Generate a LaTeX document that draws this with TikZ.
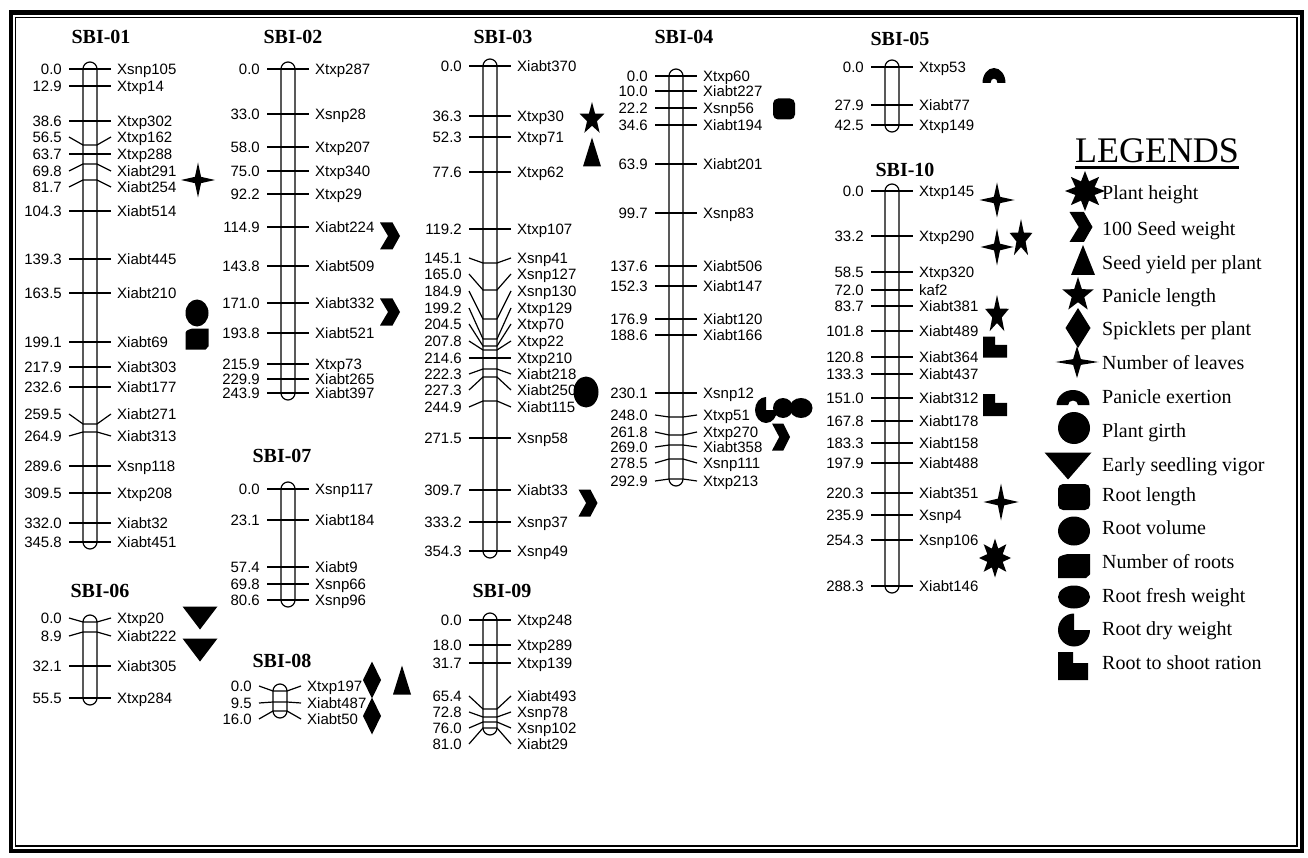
\documentclass[tikz,border=0pt]{standalone}
\usepackage{fontspec}
\setmainfont{Liberation Serif}
\setsansfont{Liberation Sans}

\newcommand{\chrom}[4]{%
  \foreach \cm/\ty/\ly/\mk in {#4}{
    \node[cnum] (n-\mk) at (#1-28,\ly) {\cm};
    \node[cmark] (m-\mk) at (#1+27,\ly) {\mk};
    \draw[cline] ([xshift=7pt]n-\mk.east) -- (#1-7,\ty) -- (#1+7,\ty) -- ([xshift=-6pt]m-\mk.west);}
  \draw[cbar] (#1-7,#2-7) rectangle (#1+7,#3+7);}

\begin{document}
\begin{tikzpicture}[x=1pt,y=-1pt,
    cnum/.style={font=\sffamily\fontsize{15}{15}\selectfont,inner sep=0pt,text height=10.7pt,text depth=0pt,anchor=east},
    cmark/.style={cnum,anchor=west},
    ctitle/.style={font=\bfseries\fontsize{20}{20}\selectfont,inner sep=0pt,text height=13.2pt,text depth=0pt},
    legtext/.style={font=\fontsize{20}{20}\selectfont,inner sep=0pt,text height=13.2pt,text depth=0pt,anchor=west},
    cline/.style={line width=1.2pt},
    cbar/.style={line width=1.2pt,rounded corners=7pt},
    symleaf/.pic={\fill (-1,0) -- (-0.18,-0.18) -- (0,-1) -- (0.18,-0.18) -- (1,0) -- (0.18,0.18) -- (0,1) -- (-0.18,0.18) -- cycle;},
    sym5/.pic={\fill (270:1) \foreach \k in {0,...,4}{ -- ({306+72*\k}:0.4) -- ({342+72*\k}:1)} -- cycle;},
    sym8/.pic={\fill (270:1) \foreach \k in {0,...,7}{ -- ({292.5+45*\k}:0.52) -- ({315+45*\k}:1)} -- cycle;},
    symseed/.pic={\fill (-1,-1) -- (0.25,-1) -- (1,0) -- (0.25,1) -- (-1,1) -- (-0.2,0) -- cycle;},
    symyield/.pic={\fill (0,-1) -- (1,1) -- (-1,1) -- cycle;},
    symvigor/.pic={\fill (-1,-1) -- (1,-1) -- (0,1) -- cycle;},
    symspike/.pic={\fill (0,-1) -- (1,0) -- (0,1) -- (-1,0) -- cycle;},
    symexert/.pic={\fill (-1,0) arc[start angle=180,end angle=360,radius=1] -- (0.3,0) arc[start angle=0,end angle=-180,radius=0.3] -- cycle;},
    symcirc/.pic={\fill (0,0) circle[radius=1];},
    symroot/.pic={\fill[rounded corners=5pt] (-1,-1) rectangle (1,1);},
    symnroot/.pic={\fill (-1,-0.3) .. controls (-1,-0.8) .. (-0.4,-1) -- (1,-1) -- (1,0.7) -- (0.75,1) -- (-1,1) -- cycle;},
    symdry/.pic={\fill (0,0) -- (1,0) arc[start angle=0,end angle=270,radius=1] -- cycle;},
    symratio/.pic={\fill (-1,-1) -- (0,-1) -- (0,-0.2) -- (1,-0.2) -- (1,1) -- (-1,1) -- cycle;}]

  \fill[white] (0,0) rectangle (1308,858);
  \useasboundingbox (0,0) rectangle (1308,858);
  \draw[line width=4.5pt] (10.8,12.5) rectangle (1302,851);
  \draw[line width=1.2pt] (15.8,17.2) rectangle (1297,846);

  \node[ctitle] (t01) at (101,37) {SBI-01};
  \node[ctitle] (t02) at (293,37) {SBI-02};
  \node[ctitle] (t03) at (503,37) {SBI-03};
  \node[ctitle] (t04) at (684,37) {SBI-04};
  \node[ctitle] (t05) at (900,39) {SBI-05};
  \node[ctitle] (t10) at (905,170) {SBI-10};
  \node[ctitle] (t06) at (100,591) {SBI-06};
  \node[ctitle] (t07) at (282,456) {SBI-07};
  \node[ctitle] (t08) at (282,661) {SBI-08};
  \node[ctitle] (t09) at (502,591) {SBI-09};

  \chrom{90}{69}{542}{0.0/69/69/Xsnp105, 12.9/86/86/Xtxp14, 38.6/121/121/Xtxp302, 56.5/145/137/Xtxp162,
    63.7/154/154/Xtxp288, 69.8/164/171/Xiabt291, 81.7/180/187/Xiabt254, 104.3/211/211/Xiabt514,
    139.3/259/259/Xiabt445, 163.5/293/293/Xiabt210, 199.1/342/342/Xiabt69, 217.9/367/367/Xiabt303,
    232.6/387/387/Xiabt177, 259.5/424/414/Xiabt271, 264.9/432/436/Xiabt313, 289.6/466/466/Xsnp118,
    309.5/493/493/Xtxp208, 332.0/523/523/Xiabt32, 345.8/542/542/Xiabt451}
  \chrom{288}{69}{393}{0.0/69/69/Xtxp287, 33.0/114/114/Xsnp28, 58.0/147/147/Xtxp207, 75.0/171/171/Xtxp340,
    92.2/194/194/Xtxp29, 114.9/227/227/Xiabt224, 143.8/266/266/Xiabt509, 171.0/303/303/Xiabt332,
    193.8/333/333/Xiabt521, 215.9/364/364/Xtxp73, 229.9/379/379/Xiabt265, 243.9/393/393/Xiabt397}
  \chrom{490}{66}{551}{0.0/66/66/Xiabt370, 36.3/116/116/Xtxp30, 52.3/137/137/Xtxp71, 77.6/172/172/Xtxp62,
    119.2/229/229/Xtxp107, 145.1/263/258/Xsnp41, 165.0/290/274/Xsnp127, 184.9/319/291/Xsnp130,
    199.2/339/308/Xtxp129, 204.5/346/324/Xtxp70, 207.8/350/341/Xtxp22, 214.6/358/358/Xtxp210,
    222.3/369/374/Xiabt218, 227.3/377/390/Xiabt250, 244.9/401/407/Xiabt115, 271.5/438/438/Xsnp58,
    309.7/490/490/Xiabt33, 333.2/522/522/Xsnp37, 354.3/551/551/Xsnp49}
  \chrom{676}{76}{479}{0.0/76/76/Xtxp60, 10.0/91/91/Xiabt227, 22.2/108/108/Xsnp56, 34.6/125/125/Xiabt194,
    63.9/164/164/Xiabt201, 99.7/213/213/Xsnp83, 137.6/266/266/Xiabt506, 152.3/286/286/Xiabt147,
    176.9/319/319/Xiabt120, 188.6/335/335/Xiabt166, 230.1/393/393/Xsnp12, 248.0/417/415/Xtxp51,
    261.8/435/432/Xtxp270, 269.0/445/447/Xiabt358, 278.5/459/463/Xsnp111, 292.9/479/481/Xtxp213}
  \chrom{892}{67}{125}{0.0/67/67/Xtxp53, 27.9/105/105/Xiabt77, 42.5/125/125/Xtxp149}
  \chrom{892}{191}{586}{0.0/191/191/Xtxp145, 33.2/236/236/Xtxp290, 58.5/272/272/Xtxp320, 72.0/290/290/kaf2,
    83.7/306/306/Xiabt381, 101.8/331/331/Xiabt489, 120.8/357/357/Xiabt364, 133.3/374/374/Xiabt437,
    151.0/398/398/Xiabt312, 167.8/421/421/Xiabt178, 183.3/443/443/Xiabt158, 197.9/463/463/Xiabt488,
    220.3/493/493/Xiabt351, 235.9/515/515/Xsnp4, 254.3/540/540/Xsnp106, 288.3/586/586/Xiabt146}
  \chrom{90}{622}{698}{0.0/622/618/Xtxp20, 8.9/632/636/Xiabt222, 32.1/666/666/Xiabt305, 55.5/698/698/Xtxp284}
  \chrom{288}{489}{600}{0.0/489/489/Xsnp117, 23.1/520/520/Xiabt184, 57.4/567/567/Xiabt9, 69.8/584/584/Xsnp66,
    80.6/600/600/Xsnp96}
  \chrom{280}{691}{711}{0.0/691/686/Xtxp197, 9.5/702/703/Xiabt487, 16.0/711/719/Xiabt50}
  \chrom{490}{620}{728}{0.0/620/620/Xtxp248, 18.0/645/645/Xtxp289, 31.7/663/663/Xtxp139, 65.4/709/696/Xiabt493,
    72.8/717/712/Xsnp78, 76.0/722/728/Xsnp102, 81.0/728/744/Xiabt29}

  \pic[xscale=17,yscale=17.5] at (198,180) {symleaf};
  \pic[xscale=11.5,yscale=13.5] at (197,313) {symcirc};
  \pic[xscale=11.5,yscale=10.5] at (197,339) {symnroot};
  \pic[xscale=10,yscale=13.5] at (390,236) {symseed};
  \pic[xscale=10,yscale=13.5] at (390,312) {symseed};
  \pic[xscale=13,yscale=17] at (592,119) {sym5};
  \pic[xscale=9,yscale=14.5] at (592,152) {symyield};
  \pic[xscale=12.5,yscale=15.5] at (586,392) {symcirc};
  \pic[xscale=9.5,yscale=13.5] at (588,503) {symseed};
  \pic[xscale=11,yscale=10.5] at (784,109) {symroot};
  \pic[xscale=10,yscale=10] at (783,408) {symcirc};
  \pic[xscale=11.5,yscale=10] at (801,408) {symcirc};
  \pic[xscale=11,yscale=13] at (766,410) {symdry};
  \pic[xscale=9,yscale=13.5] at (781,437) {symseed};
  \pic[xscale=11.5,yscale=15] at (994,83) {symexert};
  \pic[xscale=17.5,yscale=17.5] at (997,200) {symleaf};
  \pic[xscale=16.5,yscale=18.5] at (997,247) {symleaf};
  \pic[xscale=12,yscale=20] at (1021,239) {sym5};
  \pic[xscale=12.5,yscale=20] at (997,315) {sym5};
  \pic[xscale=12,yscale=10.5] at (995,347) {symratio};
  \pic[xscale=12,yscale=11] at (995,405) {symratio};
  \pic[xscale=17.5,yscale=18.5] at (1001,502) {symleaf};
  \pic[xscale=16,yscale=19.5] at (995,558) {sym8};
  \pic[xscale=17.5,yscale=11.5] at (200,618) {symvigor};
  \pic[xscale=17.5,yscale=11.5] at (200,650) {symvigor};
  \pic[xscale=9,yscale=18.5] at (372,680) {symspike};
  \pic[xscale=9,yscale=18.5] at (372,716) {symspike};
  \pic[xscale=9,yscale=14.5] at (402,680) {symyield};

  \node[font=\fontsize{36}{36}\selectfont,inner sep=0pt,text height=23.8pt,text depth=0pt] (legtitle) at (1157,151) {LEGENDS};
  \draw[line width=3pt] ([yshift=-4pt]legtitle.south west) -- ([yshift=-4pt]legtitle.south east);
  \foreach \i/\y/\txt in {1/193/Plant height, 2/229/100 Seed weight, 3/263/Seed yield per plant,
      4/296/Panicle length, 5/329/Spicklets per plant, 6/363/Number of leaves, 7/397/Panicle exertion,
      8/431/Plant girth, 9/465/Early seedling vigor, 10/495/Root length, 11/528/Root volume,
      12/562/Number of roots, 13/596/Root fresh weight, 14/629/Root dry weight, 15/663/Root to shoot ration}
    \node[legtext] (leg\i) at (1102,\y) {\txt};
  \pic[xscale=20,yscale=20] at (1085,191) {sym8};
  \pic[xscale=11.5,yscale=15] at (1081,227) {symseed};
  \pic[xscale=12,yscale=15] at (1083,260) {symyield};
  \pic[xscale=16.5,yscale=18] at (1078,295) {sym5};
  \pic[xscale=12.5,yscale=20] at (1078,328) {symspike};
  \pic[xscale=21.5,yscale=16] at (1077,362) {symleaf};
  \pic[xscale=16.5,yscale=15] at (1073,405) {symexert};
  \pic[xscale=16,yscale=16] at (1074,428) {symcirc};
  \pic[xscale=23.5,yscale=13.5] at (1068,466) {symvigor};
  \pic[xscale=16,yscale=13] at (1074,497) {symroot};
  \pic[xscale=16,yscale=14.5] at (1074,531) {symcirc};
  \pic[xscale=16,yscale=12] at (1074,566) {symnroot};
  \pic[xscale=16,yscale=11.5] at (1074,597) {symcirc};
  \pic[xscale=16,yscale=16.5] at (1074,630) {symdry};
  \pic[xscale=15,yscale=14] at (1073,666) {symratio};
\end{tikzpicture}
\end{document}
